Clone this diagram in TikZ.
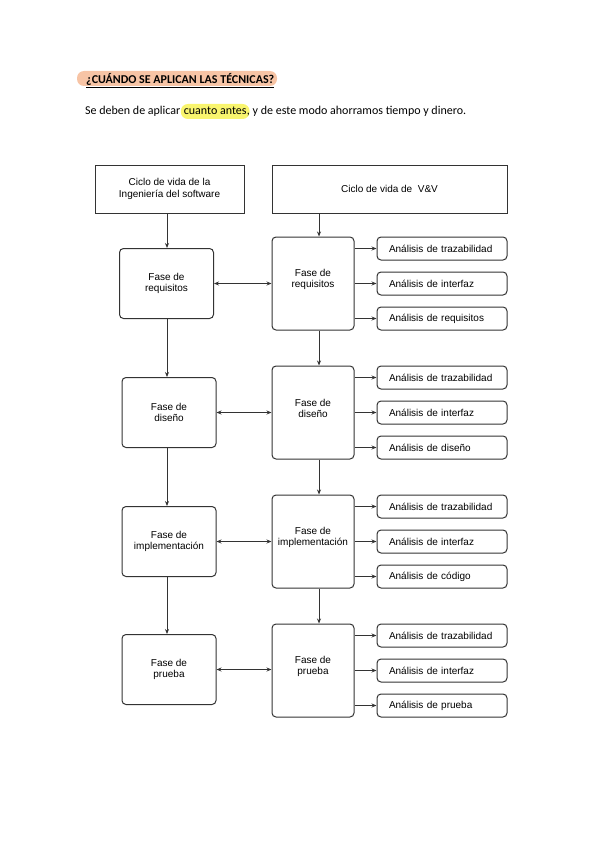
\documentclass[tikz,border=0pt]{standalone}
\usepackage{fontspec}
\setmainfont{Liberation Sans}
\newfontfamily\calibri{Carlito}[BoldFont={Carlito Bold}]
\usetikzlibrary{arrows.meta,calc}
\definecolor{salmon}{HTML}{F7C4A5}
\definecolor{hlyellow}{HTML}{F9F56E}
\definecolor{linegray}{HTML}{333333}
\begin{document}
\begin{tikzpicture}[x=1pt,y=-1pt,
  every node/.style={font=\fontsize{10}{11.5}\selectfont, text=black},
  sqbox/.style={draw=linegray, line width=1pt, align=center, inner sep=0pt},
  fbox/.style={draw=linegray, line width=1pt, rounded corners=4pt, align=center, inner sep=0pt, minimum width=94pt, minimum height=70pt},
  rbox/.style={draw=linegray, line width=1pt, rounded corners=4pt, inner sep=0pt, minimum width=82pt, minimum height=93pt},
  abox/.style={draw=linegray, line width=1pt, rounded corners=4pt, inner xsep=12pt, inner ysep=0pt, text width=106pt, align=left, minimum height=23pt},
  conn/.style={draw=linegray, line width=1pt, -{Stealth[length=5pt,width=4pt]}},
  dconn/.style={draw=linegray, line width=1pt, {Stealth[length=5pt,width=4pt]}-{Stealth[length=5pt,width=4pt]}},
  plain/.style={inner sep=0pt, font=\calibri\fontsize{12}{14}\selectfont, text=black}
]
\useasboundingbox (0,0) rectangle (599,848);

% header
\node[fill=salmon, rounded corners=7pt, minimum width=200pt, minimum height=15pt, inner sep=0pt] (hl1) at (177,78.5) {};
\node[plain, anchor=base west] (title) at (86,83.5) {\bfseries\underline{¿CUÁNDO SE APLICAN LAS TÉCNICAS?}};

% body line
\node[plain, anchor=base west] (t1) at (85,114) {Se deben de aplicar};
\node[plain, anchor=base west, fill=hlyellow, rounded corners=7pt, inner xsep=3pt, inner ysep=1pt, text height=9pt, text depth=4pt] (t2) at ([xshift=0pt]t1.base east) {cuanto antes};
\node[plain, anchor=base west] (t3) at ([xshift=-3pt]t2.base east) {, y de este modo ahorramos tiempo y dinero.};

% top boxes
\node[sqbox, minimum width=149pt, minimum height=48pt] (tl) at (169.5,189) {Ciclo de vida de la\\Ingeniería del software};
\node[sqbox, minimum width=235pt, minimum height=48pt] (tr) at (389.5,189) {Ciclo de vida de \ V\&V};

\coordinate (lcol) at (167,0);
\coordinate (rcol) at (319,0);

% left column
\node[fbox] (lb1) at (166.5,283.5) {Fase de\\requisitos};
\node[fbox] (lb2) at (169,412.5) {Fase de\\diseño};
\node[fbox] (lb3) at (169,541.5) {Fase de\\implementación};
\node[fbox] (lb4) at (169,669.5) {Fase de\\prueba};

% right column
\node[rbox] (rf1) at (313,283.5) {};
\node[rbox] (rf2) at (313,412.5) {};
\node[rbox] (rf3) at (313,541.5) {};
\node[rbox] (rf4) at (313,670.5) {};
\node[align=center] (rt1) at ([yshift=4pt]rf1.center) {Fase de\\requisitos};
\node[align=center] (rt2) at ([yshift=4pt]rf2.center) {Fase de\\diseño};
\node[align=center] (rt3) at ([yshift=4pt]rf3.center) {Fase de\\implementación};
\node[align=center] (rt4) at ([yshift=4pt]rf4.center) {Fase de\\prueba};

% analysis boxes
\node[abox] (a11) at (442,248.5) {Análisis de trazabilidad};
\node[abox] (a12) at (442,283.5) {Análisis de interfaz};
\node[abox] (a13) at (442,318.5) {Análisis de requisitos};
\node[abox] (a21) at (442,377.5) {Análisis de trazabilidad};
\node[abox] (a22) at (442,412.5) {Análisis de interfaz};
\node[abox] (a23) at (442,447.5) {Análisis de diseño};
\node[abox] (a31) at (442,506.5) {Análisis de trazabilidad};
\node[abox] (a32) at (442,541.5) {Análisis de interfaz};
\node[abox] (a33) at (442,576.5) {Análisis de código};
\node[abox] (a41) at (442,635.5) {Análisis de trazabilidad};
\node[abox] (a42) at (442,670.5) {Análisis de interfaz};
\node[abox] (a43) at (442,705.5) {Análisis de prueba};

% vertical connectors
\draw[conn] (tl.south -| lcol) -- (lb1.north -| lcol);
\draw[conn] (lb1.south -| lcol) -- (lb2.north -| lcol);
\draw[conn] (lb2.south -| lcol) -- (lb3.north -| lcol);
\draw[conn] (lb3.south -| lcol) -- (lb4.north -| lcol);
\draw[conn] (tr.south -| rcol) -- (rf1.north -| rcol);
\draw[conn] (rf1.south -| rcol) -- (rf2.north -| rcol);
\draw[conn] (rf2.south -| rcol) -- (rf3.north -| rcol);
\draw[conn] (rf3.south -| rcol) -- (rf4.north -| rcol);

% double arrows
\foreach \i in {1,2,3,4} {
  \draw[dconn] (lb\i.east) -- (lb\i.east -| rf\i.west);
}

% analysis connectors
\foreach \i in {1,2,3,4} {
  \foreach \j in {1,2,3} {
    \draw[conn] (rf\i.east |- a\i\j.west) -- (a\i\j.west);
  }
}
\end{tikzpicture}
\end{document}
